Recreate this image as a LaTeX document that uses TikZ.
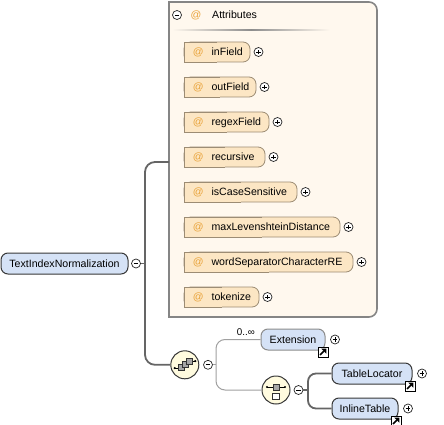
\documentclass[tikz,border=0pt]{standalone}
\usepackage{fontspec}
\setmainfont{Liberation Sans}
\usetikzlibrary{calc}
\definecolor{elfill}{HTML}{D5E2F6}
\definecolor{elline}{HTML}{383838}
\definecolor{optline}{HTML}{8C8C8C}
\definecolor{atfill}{HTML}{FCE6C4}
\definecolor{atline}{HTML}{9C8C74}
\definecolor{atsign}{HTML}{E9A33A}
\definecolor{panfill}{HTML}{FFF8EE}
\definecolor{panline}{HTML}{858585}
\definecolor{cmpfill}{HTML}{FFFBDF}
\definecolor{connc}{HTML}{656565}
\definecolor{optc}{HTML}{A0A0A0}
\definecolor{icgray}{HTML}{A6A6A6}
\newcommand\myattr[4]{%
  \node[atshape, minimum width=#3pt, anchor=west] (#1) at (184,#2) {};
  \path[atsharp] (#1.north) -- (#1.north west) -- (#1.south west) -- (#1.south);
  \node[txt, anchor=west] (#1t) at (#1.west) {\hspace*{8.6pt}\textcolor{atsign}{@}\hspace*{8pt}#4};
  \node[plus] (#1p) at ([xshift=8.5pt]#1.east) {};
}
\begin{document}
\begin{tikzpicture}[x=1pt,y=-1pt,
  every node/.style={font=\fontsize{10.6}{12}\selectfont},
  txt/.style={inner sep=0pt, text height=7.5pt, text depth=0pt},
  elem/.style={draw=elline, line width=1pt, fill=elfill, rounded corners=7pt,
    minimum height=21pt, inner sep=0pt, text height=7.5pt, text depth=0pt},
  optelem/.style={elem, draw=optline},
  atshape/.style={draw=atline, fill=atfill, line width=0.8pt, rounded corners=7pt,
    minimum height=20pt, inner sep=0pt, outer sep=0pt},
  atsharp/.style={draw=atline, fill=atfill, line width=0.8pt},
  pmc/.style={circle, draw=black!85, fill=white, line width=0.7pt, minimum size=9pt, inner sep=0pt},
  minus/.style={pmc, path picture={\draw[black, line width=0.8pt]
      ([xshift=-2.3pt]path picture bounding box.center) -- ([xshift=2.3pt]path picture bounding box.center);}},
  plus/.style={pmc, path picture={\draw[black, line width=0.8pt]
      ([xshift=-2.3pt]path picture bounding box.center) -- ([xshift=2.3pt]path picture bounding box.center)
      ([yshift=-2.3pt]path picture bounding box.center) -- ([yshift=2.3pt]path picture bounding box.center);}},
  lnk/.style={draw=black, fill=white, line width=0.9pt, minimum size=10pt, inner sep=0pt,
    path picture={
      \draw[black, line width=1.5pt] ([xshift=-3pt,yshift=-3pt]path picture bounding box.center)
         -- ([xshift=0.8pt,yshift=0.8pt]path picture bounding box.center);
      \fill[black] ([xshift=3.3pt,yshift=3.3pt]path picture bounding box.center)
         -- ([xshift=-1.6pt,yshift=3.3pt]path picture bounding box.center)
         -- ([xshift=3.3pt,yshift=-1.6pt]path picture bounding box.center) -- cycle;}},
  cmp/.style={circle, draw=elline, fill=cmpfill, line width=1pt, minimum size=28pt, inner sep=0pt},
  conn/.style={draw=connc, line width=1.8pt},
  optconn/.style={draw=optc, line width=1pt},
]
\useasboundingbox (0,0) rectangle (444,425);

% attributes panel
\fill[panfill, rounded corners=8pt] (169,2) rectangle (377,317);
\fill[panfill] (169,2) rectangle (260,317);
\draw[panline, line width=1.6pt, rounded corners=8pt] (260,2) -- (377,2) -- (377,317) -- (260,317);
\draw[panline, line width=1.6pt] (260,2) -- (169,2) -- (169,317) -- (260,317);
\node[minus] (hm) at (177,15) {};
\node[txt, text=atsign] (hat) at (196,15) {@};
\node[txt, anchor=west] (htxt) at (212,15) {Attributes};
\shade[left color=panfill, right color=panfill, middle color=black!45] (172,29.2) rectangle (330,30.8);

\myattr{a1}{52}{66}{inField}
\myattr{a2}{87}{72}{outField}
\myattr{a3}{122}{85}{regexField}
\myattr{a4}{157}{81}{recursive}
\myattr{a5}{192}{113}{isCaseSensitive}
\myattr{a6}{227}{156}{maxLevenshteinDistance}
\myattr{a7}{262}{169}{wordSeparatorCharacterRE}
\myattr{a8}{297}{75}{tokenize}

% main element
\node[elem, minimum width=127pt] (main) at (64.5,263.5) {TextIndexNormalization};
\node[minus] (mmain) at (136,263.5) {};
\coordinate (spine) at (145,263.5);
\coordinate (panin) at (169,162);

% sequence
\node[cmp] (seq) at (184.8,364.8) {};
\node[minus] (mseq) at (208,364.8) {};
\coordinate (sspine) at (216,364.8);

% extension
\node[optelem, minimum width=64pt] (ext) at (293,339.5) {Extension};
\node[lnk] (extl) at ([xshift=-2.5pt,yshift=-1.5pt]ext.south east) {};
\node[plus] (extp) at ([xshift=9.5pt]ext.east) {};
\node[txt, anchor=base east, font=\fontsize{9.8}{11}\selectfont] (mult) at (255,335.5) {0..∞};

% choice
\node[cmp] (ch) at (276,390) {};
\node[minus] (mch) at (298.5,390) {};
\coordinate (cspine) at (308,390);

\node[elem, minimum width=80pt] (tl) at (372,373.5) {TableLocator};
\node[lnk] (tll) at ([xshift=-2.5pt,yshift=-1.5pt]tl.south east) {};
\node[plus] (tlp) at ([xshift=9.5pt]tl.east) {};
\node[elem, minimum width=66pt] (it) at (365,408.5) {InlineTable};
\node[lnk] (itl) at ([xshift=-2.5pt,yshift=-1.5pt]it.south east) {};
\node[plus] (itp) at ([xshift=9.5pt]it.east) {};

% connectors
\draw[conn] (mmain) -- (spine);
\draw[conn, rounded corners=10pt] (panin) -- (145,162) -- (145,364.8) -- (seq.west);
\draw[optconn] (mseq) -- (sspine);
\draw[optconn, rounded corners=9pt] (ext.west) -- (216,339.5) -- (216,390) -- (ch.west);
\draw[conn] (mch) -- (cspine);
\draw[conn, rounded corners=8pt] (tl.west) -- (308,373.5) -- (308,408.5) -- (it.west);

% sequence icon
\draw[line width=0.8pt] (174.7,368) -- (179,368) (191,361) -- (195.3,361);
\fill (174.7,368) circle[radius=1.2pt] (195.3,361) circle[radius=1.2pt];
\filldraw[fill=icgray, draw=black!80, line width=0.6pt] (178,364.7) rectangle (184,370.7);
\filldraw[fill=icgray, draw=black!80, line width=0.6pt] (182,361) rectangle (188,367);
\filldraw[fill=icgray, draw=black!80, line width=0.6pt] (186,358) rectangle (192,364);

% choice icon
\draw[line width=0.8pt] (267,387) -- (285,387);
\fill (267,387) circle[radius=1.2pt] (285,387) circle[radius=1.2pt];
\filldraw[fill=icgray, draw=black!80, line width=0.6pt] (273,384) rectangle (279,390);
\filldraw[fill=white, draw=black!80, line width=0.7pt] (272.5,393) rectangle (279.5,399.5);
\end{tikzpicture}
\end{document}
